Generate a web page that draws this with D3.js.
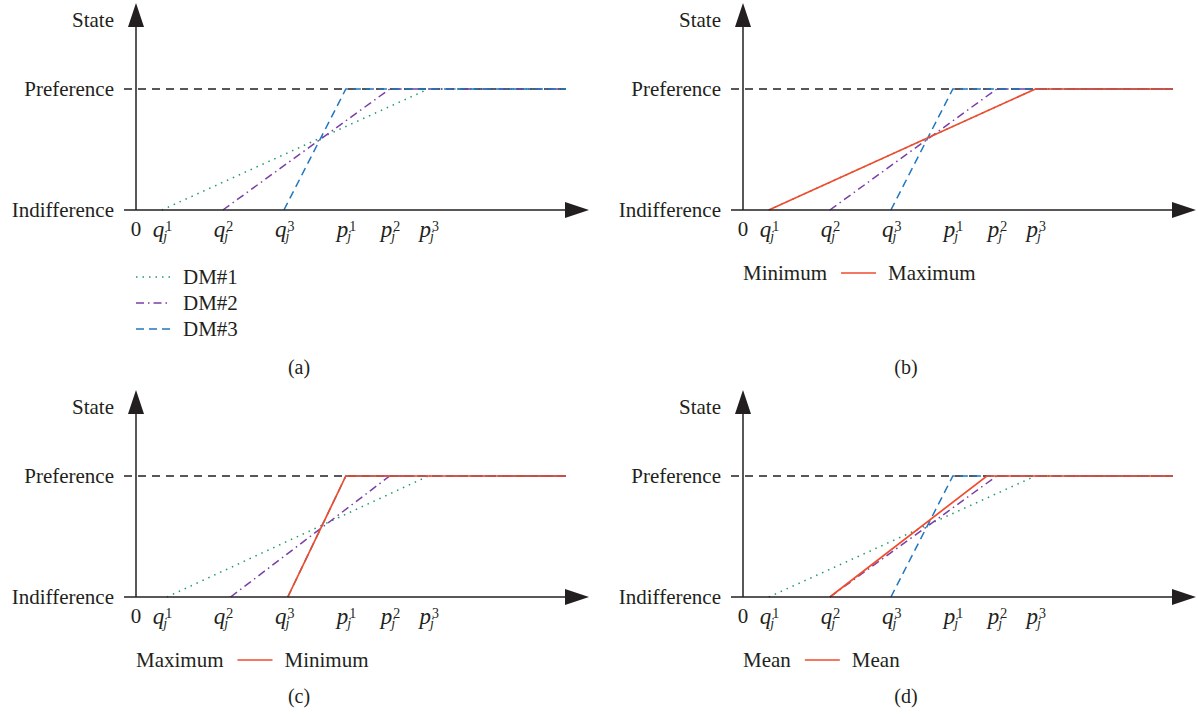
<!DOCTYPE html>
<html>
<head>
<meta charset="utf-8">
<script src="https://cdn.jsdelivr.net/npm/d3@7"></script>
<style>
  body { margin: 0; background: #fff; }
  svg { display: block; }
  text { font-family: "Liberation Serif", "Times New Roman", serif; fill: #231f20; }
</style>
</head>
<body>
<svg id="chart"></svg>
<script>
// x-axis thresholds (arbitrary units along the criterion scale)
const tickLetters = ['0', 'q', 'q', 'q', 'p', 'p', 'p'];
const tickSups = ['', '1', '2', '3', '1', '2', '3'];
const tickValues = [0, 0.6, 2.02, 3.44, 4.88, 5.9, 6.8];

// y-axis states
const stateLabels = ['Indifference', 'Preference', 'State'];
const stateValues = [0, 1, 1.57];

// decision makers: line rises from q (state 0) to p (state 1)
const dmNames = ['DM#1', 'DM#2', 'DM#3'];
const dmColors = ['#1f9a6c', '#7a3fa6', '#1f77c0'];
const dmDashes = ['1.5,5', '8,4,1.5,4', '8,5'];
const dmQ = [0.6, 2.02, 3.44];
const dmP = [6.8, 5.9, 4.88];
const dmQc = [0.72, 2.2, 3.53]; // panel (c) lines start slightly later

// aggregated red line in panels b, c, d
const aggFirst = ['Minimum', 'Maximum', 'Mean'];
const aggNames = ['Maximum', 'Minimum', 'Mean'];
const aggQ = [0.6, 3.53, 2.02];
const aggP = [6.8, 4.88, 5.67];

const panelNames = ['(a)', '(b)', '(c)', '(d)'];
const xEnd = 10;

const width = 1198;
const height = 714;
const red = '#f04b2d';
const ink = '#231f20';

const svg = d3.select('#chart').attr('width', width).attr('height', height);

const origins = [[136, 210], [743, 210], [136, 597], [743, 597]];

origins.forEach(function(o, i) {
  drawPanel(i, o[0], o[1]);
});

function drawPanel(i, ox, oy) {
  const g = svg.append('g').attr('class', 'panel-' + i);

  const x = d3.scaleLinear().domain([0, xEnd]).range([ox, ox + 430]);
  const y = d3.scaleLinear().domain([0, 1]).range([oy, oy - 121]);

  const line = d3.line()
    .x(function(d) { return x(d[0]); })
    .y(function(d) { return y(d[1]); });

  // preference level
  g.append('line')
    .attr('x1', ox - 12).attr('x2', x(xEnd))
    .attr('y1', y(1)).attr('y2', y(1))
    .attr('stroke', ink).attr('stroke-width', 1.3)
    .attr('stroke-dasharray', '8,6');

  // decision maker lines
  const qs = (i === 2) ? dmQc : dmQ;
  dmNames.forEach(function(name, k) {
    g.append('path')
      .attr('d', line([[qs[k], 0], [dmP[k], 1], [xEnd, 1]]))
      .attr('fill', 'none')
      .attr('stroke', dmColors[k])
      .attr('stroke-width', 1.5)
      .attr('stroke-dasharray', dmDashes[k]);
  });

  // aggregated line
  if (i > 0) {
    const a = i - 1;
    g.append('path')
      .attr('d', line([[aggQ[a], 0], [aggP[a], 1], [xEnd, 1]]))
      .attr('fill', 'none')
      .attr('stroke', red)
      .attr('stroke-width', 1.7);
  }

  // axes
  const yTop = y(1.71);
  g.append('line')
    .attr('x1', ox).attr('x2', ox)
    .attr('y1', oy).attr('y2', yTop + 20)
    .attr('stroke', ink).attr('stroke-width', 1.5);
  g.append('path')
    .attr('d', 'M' + ox + ',' + yTop + 'L' + (ox + 8) + ',' + (yTop + 24) + 'L' + (ox - 8) + ',' + (yTop + 24) + 'Z')
    .attr('fill', ink);

  const xTip = x(xEnd) + 23;
  g.append('line')
    .attr('x1', ox - 12).attr('x2', xTip - 20)
    .attr('y1', oy).attr('y2', oy)
    .attr('stroke', ink).attr('stroke-width', 1.5);
  g.append('path')
    .attr('d', 'M' + xTip + ',' + oy + 'L' + (xTip - 24) + ',' + (oy - 8) + 'L' + (xTip - 24) + ',' + (oy + 8) + 'Z')
    .attr('fill', ink);

  // state labels
  stateLabels.forEach(function(s, k) {
    g.append('text')
      .attr('x', ox - 22)
      .attr('y', y(stateValues[k]) + 7)
      .attr('text-anchor', 'end')
      .style('font-size', '21px')
      .text(s);
  });

  // tick labels: letter with superscript index and subscript j
  tickValues.forEach(function(v, k) {
    if (k === 0) {
      g.append('text')
        .attr('x', x(v)).attr('y', oy + 26)
        .attr('text-anchor', 'middle')
        .style('font-size', '21px')
        .text(tickLetters[k]);
      return;
    }
    const cx = x(v) - 3;
    const t = g.append('text')
      .attr('x', cx - 6).attr('y', oy + 27);
    t.append('tspan')
      .style('font-size', '23px').style('font-style', 'italic')
      .text(tickLetters[k]);
    t.append('tspan')
      .attr('dx', 1).attr('dy', -6)
      .style('font-size', '14px')
      .text(tickSups[k]);
    t.append('tspan')
      .attr('dx', -9).attr('dy', 10)
      .style('font-size', '14px').style('font-style', 'italic')
      .text('j');
  });

  // legends
  if (i === 0) {
    dmNames.forEach(function(name, k) {
      const ly = oy + 67 + k * 26;
      g.append('line')
        .attr('x1', ox).attr('x2', ox + 35)
        .attr('y1', ly).attr('y2', ly)
        .attr('stroke', dmColors[k]).attr('stroke-width', 1.5)
        .attr('stroke-dasharray', dmDashes[k]);
      g.append('text')
        .attr('x', ox + 47).attr('y', ly + 7)
        .style('font-size', '21px')
        .text(name);
    });
  } else {
    const a = i - 1;
    const ly = oy + 63;
    const t1 = g.append('text')
      .attr('x', ox).attr('y', ly + 7)
      .style('font-size', '21px')
      .text(aggFirst[a]);
    const end1 = ox + t1.node().getComputedTextLength();
    g.append('line')
      .attr('x1', end1 + 14).attr('x2', end1 + 49)
      .attr('y1', ly).attr('y2', ly)
      .attr('stroke', red).attr('stroke-width', 1.7);
    g.append('text')
      .attr('x', end1 + 61).attr('y', ly + 7)
      .style('font-size', '21px')
      .text(aggNames[a]);
  }

  // panel caption
  g.append('text')
    .attr('x', ox + 163)
    .attr('y', i < 2 ? 374 : 703)
    .attr('text-anchor', 'middle')
    .style('font-size', '20px')
    .text(panelNames[i]);
}
</script>
</body>
</html>
